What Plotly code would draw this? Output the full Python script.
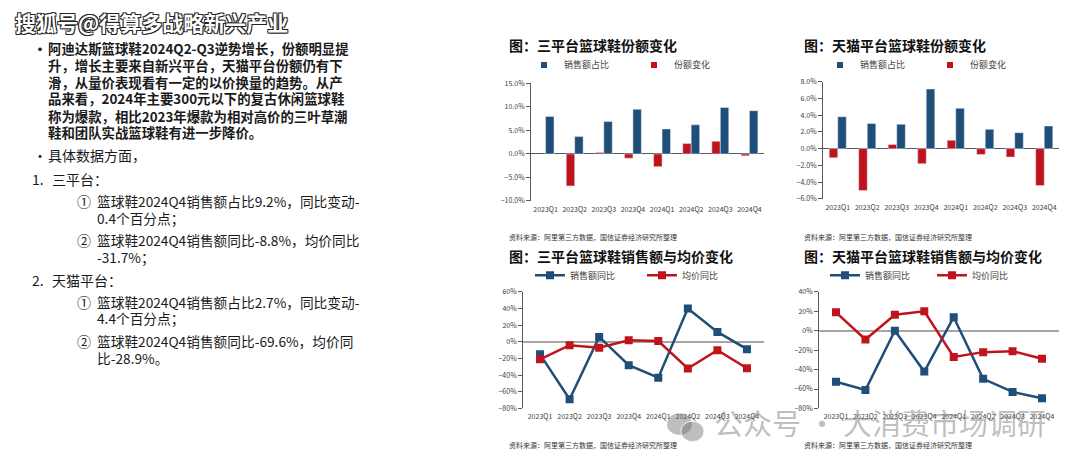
import plotly.graph_objects as go

W, H = 1080, 470
OFF = 8  # page body margin
FONT = "Noto Sans CJK SC"
BLUE = "#1F4E79"
RED = "#C0141C"

# ---------------- data ----------------
quarters = ["2023Q1", "2023Q2", "2023Q3", "2023Q4", "2024Q1", "2024Q2", "2024Q3", "2024Q4"]

# 三平台 份额
tri_share = [8.0, 3.7, 6.9, 9.5, 5.3, 6.2, 9.9, 9.2]
tri_share_chg = [None, -6.8, 0.3, -0.9, -2.7, 2.2, 2.7, -0.4]

# 天猫 份额
tm_share = [3.8, 3.0, 2.9, 7.1, 4.8, 2.3, 1.9, 2.7]
tm_share_chg = [-1.1, -5.0, 0.5, -1.8, 1.0, -0.7, -1.0, -4.4]

# 三平台 销售额同比 / 均价同比
tri_sales_yoy = [-15, -69, 6, -28, -43, 40, 12, -8.8]
tri_price_yoy = [-21, -4, -7, 2, 1, -32, -10, -31.7]

# 天猫 销售额同比 / 均价同比
tm_sales_yoy = [-52.6, -61, 0, -42, 14, -49.5, -63, -69.6]
tm_price_yoy = [19, -9, 16.5, 20, -27, -22, -21, -28.9]

titles = ["图：三平台篮球鞋份额变化", "图：天猫平台篮球鞋份额变化",
          "图：三平台篮球鞋销售额与均价变化", "图：天猫平台篮球鞋销售额与均价变化"]
source_text = "资料来源：阿里第三方数据，国信证券经济研究所整理"

para1 = ["阿迪达斯篮球鞋2024Q2-Q3逆势增长，份额明显提",
         "升，增长主要来自新兴平台，天猫平台份额仍有下",
         "滑，从量价表现看有一定的以价换量的趋势。从产",
         "品来看，2024年主要300元以下的复古休闲篮球鞋",
         "称为爆款，相比2023年爆款为相对高价的三叶草潮",
         "鞋和团队实战篮球鞋有进一步降价。"]
para2 = "具体数据方面，"
sec1 = "三平台："
sec1_items = [("①", ["篮球鞋2024Q4销售额占比9.2%，同比变动-", "0.4个百分点；"]),
              ("②", ["篮球鞋2024Q4销售额同比-8.8%，均价同比", "-31.7%；"])]
sec2 = "天猫平台："
sec2_items = [("①", ["篮球鞋2024Q4销售额占比2.7%，同比变动-", "4.4个百分点；"]),
              ("②", ["篮球鞋2024Q4销售额同比-69.6%，均价同", "比-28.9%。"])]

wm_top = "搜狐号@得算多战略新兴产业"
wm_bottom = "公众号 · 大消费市场调研"


def px(x):
    return (x - OFF) / W


def py(y):
    return 1 - (y - OFF) / H


fig = go.Figure()

sq = dict(symbol="square", size=6)
# ---------- chart 1: bars ----------
fig.add_trace(go.Bar(x=quarters, y=tri_share_chg, name="份额变化", marker_color=RED,
                     xaxis="x", yaxis="y", showlegend=False))
fig.add_trace(go.Bar(x=quarters, y=tri_share, name="销售额占比", marker_color=BLUE,
                     xaxis="x", yaxis="y", showlegend=False))
# ---------- chart 2: bars ----------
fig.add_trace(go.Bar(x=quarters, y=tm_share_chg, name="份额变化", marker_color=RED,
                     xaxis="x2", yaxis="y2", showlegend=False))
fig.add_trace(go.Bar(x=quarters, y=tm_share, name="销售额占比", marker_color=BLUE,
                     xaxis="x2", yaxis="y2", showlegend=False))
# legend keys for the bar charts (small squares)
for leg, ax in (("legend", ("x", "y")), ("legend2", ("x2", "y2"))):
    fig.add_trace(go.Scatter(x=[None], y=[None], mode="markers", name="销售额占比",
                             marker=dict(color=BLUE, **sq), xaxis=ax[0], yaxis=ax[1], legend=leg))
    fig.add_trace(go.Scatter(x=[None], y=[None], mode="markers", name="份额变化",
                             marker=dict(color=RED, **sq), xaxis=ax[0], yaxis=ax[1], legend=leg))
# ---------- chart 3: lines ----------
fig.add_trace(go.Scatter(x=quarters, y=tri_sales_yoy, name="销售额同比", mode="lines+markers",
                         line=dict(color=BLUE, width=2.5), marker=dict(symbol="square", size=8, color=BLUE),
                         xaxis="x3", yaxis="y3", legend="legend3"))
fig.add_trace(go.Scatter(x=quarters, y=tri_price_yoy, name="均价同比", mode="lines+markers",
                         line=dict(color=RED, width=2.5), marker=dict(symbol="square", size=8, color=RED),
                         xaxis="x3", yaxis="y3", legend="legend3"))
# ---------- chart 4: lines ----------
fig.add_trace(go.Scatter(x=quarters, y=tm_sales_yoy, name="销售额同比", mode="lines+markers",
                         line=dict(color=BLUE, width=2.5), marker=dict(symbol="square", size=8, color=BLUE),
                         xaxis="x4", yaxis="y4", legend="legend4"))
fig.add_trace(go.Scatter(x=quarters, y=tm_price_yoy, name="均价同比", mode="lines+markers",
                         line=dict(color=RED, width=2.5), marker=dict(symbol="square", size=8, color=RED),
                         xaxis="x4", yaxis="y4", legend="legend4"))

# plot areas in screen pixels: (x0, x1, ytop, ybottom)
areas = [(531, 764, 79, 199), (823, 1059, 77, 197), (523, 764, 292, 411), (819, 1059, 292, 411)]
yranges = [(-10, 15, 5, ".1f", "%"), (-6, 8, 2, ".1f", "%"), (-80, 60, 20, "d", "%"), (-80, 40, 20, "d", "%")]

tickfont = dict(family=FONT, size=7, color="#404040")
layout = {}
for i, ((x0, x1, yt, yb), (ymin, ymax, dt, fmt, suf)) in enumerate(zip(areas, yranges)):
    sx = "" if i == 0 else str(i + 1)
    is_line = i >= 2
    layout["xaxis" + sx] = dict(domain=[px(x0), px(x1)], anchor="y" + sx, type="category",
                                showline=False, ticks="", showgrid=False, tickfont=tickfont,
                                tickangle=0, fixedrange=True, ticklabelstandoff=3)
    layout["yaxis" + sx] = dict(domain=[py(yb), py(yt)], anchor="x" + sx, range=[ymin, ymax],
                                dtick=dt, tick0=0, tickformat=fmt, ticksuffix=suf,
                                showline=True, linecolor="#595959", linewidth=1,
                                ticks="outside", ticklen=4, tickcolor="#595959",
                                showgrid=False, zeroline=True,
                                zerolinecolor="#A6A6A6" if is_line else "#595959",
                                zerolinewidth=2 if is_line else 1,
                                tickfont=tickfont, fixedrange=True)

legfont = dict(family=FONT, size=9, color="#404040")
# (x, y, entrywidth) in screen pixels
leg_pos = [(524, 60, 65), (820, 60, 65), (530, 275, 67), (825, 275, 62)]
for i, (lx, ly, ew) in enumerate(leg_pos):
    key = "legend" if i == 0 else "legend" + str(i + 1)
    layout[key] = dict(x=px(lx), y=py(ly), xanchor="left", yanchor="middle", orientation="h",
                       entrywidth=ew, entrywidthmode="pixels", font=legfont,
                       bgcolor="rgba(0,0,0,0)", traceorder="normal", itemclick=False)

annotations = []
CJK_SHIFT = 3
# chart titles & sources
title_pos = [(507, 43), (802, 43), (507, 258), (802, 258)]
source_pos = [(507, 237), (802, 237), (507, 449), (802, 449)]
for t, (tx, ty), (sx_, sy_) in zip(titles, title_pos, source_pos):
    annotations.append(dict(text="<b>" + t + "</b>", x=px(tx), y=py(ty - CJK_SHIFT), xref="paper", yref="paper",
                            xanchor="left", yanchor="middle", showarrow=False,
                            font=dict(family=FONT, size=14, color="#111111")))
    annotations.append(dict(text=source_text, x=px(sx_), y=py(sy_ - 1), xref="paper", yref="paper",
                            xanchor="left", yanchor="middle", showarrow=False,
                            font=dict(family=FONT, size=7, color="#333333")))


# left text
def txt(s, x, y, size=14, bold=False, color="#1a1a1a"):
    annotations.append(dict(text=("<b>" + s + "</b>") if bold else s, x=px(x), y=py(y - CJK_SHIFT),
                            xref="paper", yref="paper", xanchor="left", yanchor="middle",
                            showarrow=False, font=dict(family=FONT, size=size, color=color)))


p1_y = [46, 63, 80, 97, 115, 132]
txt("•", 31, 46, bold=True)
for s, y in zip(para1, p1_y):
    txt(s, 46, y, size=13.4, bold=True)
txt("•", 31, 155)
txt(para2, 46, 155)
txt("1.", 30, 180)
txt(sec1, 50, 180)
ys1 = [(202, 219), (242, 259)]
for (mark, lines), (ya, yb) in zip(sec1_items, ys1):
    txt(mark, 75, ya)
    txt(lines[0], 95, ya, size=13.7)
    txt(lines[1], 95, yb, size=13.7)
txt("2.", 30, 283)
txt(sec2, 50, 283)
ys2 = [(305, 322), (345, 362)]
for (mark, lines), (ya, yb) in zip(sec2_items, ys2):
    txt(mark, 75, ya)
    txt(lines[0], 95, ya, size=13.7)
    txt(lines[1], 95, yb, size=13.7)

# watermarks
annotations.append(dict(text="<b>" + wm_top + "</b>", x=px(13), y=py(22 - 6), xref="paper", yref="paper",
                        xanchor="left", yanchor="middle", showarrow=False,
                        font=dict(family=FONT, size=21, color="white",
                                  shadow="1px 1px 0 #222, -1px -1px 0 #222, 1px -1px 0 #222, -1px 1px 0 #222")))
annotations.append(dict(text=wm_bottom, x=px(712), y=py(431 - 6), xref="paper", yref="paper",
                        xanchor="left", yanchor="middle", showarrow=False,
                        font=dict(family=FONT, size=29, color="rgba(110,110,110,0.45)")))

shapes = [
    dict(type="circle", xref="paper", yref="paper", x0=px(667), x1=px(692), y0=py(438), y1=py(416),
         fillcolor="rgba(110,110,110,0.45)", line=dict(width=0)),
    dict(type="circle", xref="paper", yref="paper", x0=px(681), x1=px(704), y0=py(445), y1=py(424),
         fillcolor="rgba(110,110,110,0.45)", line=dict(width=1, color="rgba(255,255,255,0.8)")),
]

fig.update_layout(
    width=W, height=H, margin=dict(l=0, r=0, t=0, b=0),
    paper_bgcolor="white", plot_bgcolor="white",
    barmode="group", bargap=0.42, bargroupgap=0.0,
    font=dict(family=FONT, color="#404040"),
    annotations=annotations, shapes=shapes,
    **layout,
)

fig.write_html("out.html")
